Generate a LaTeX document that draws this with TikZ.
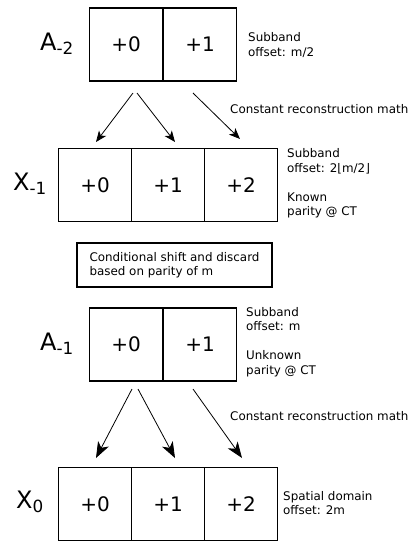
\documentclass[tikz,border=0pt]{standalone}
\usepackage{fontspec}
\setmainfont{DejaVu Sans}
\usetikzlibrary{arrows.meta}
\begin{document}
\begin{tikzpicture}[x=1pt,y=-1pt,
  cell/.style={draw,line width=1.3pt,minimum width=73pt,minimum height=73pt,inner sep=0pt,font=\fontsize{20}{24}\selectfont},
  lbl/.style={inner sep=0pt,font=\fontsize{24}{28}\selectfont},
  note/.style={inner sep=0pt,align=left,anchor=north west,font=\fontsize{11.9}{14.5}\selectfont},
  smallarrow/.style={line width=0.8pt,-{Stealth[length=11pt,width=9pt,inset=3pt]}},
  bigarrow/.style={line width=0.8pt,-{Stealth[length=16pt,width=12pt,inset=4.5pt]}},
  condbox/.style={draw,line width=1.3pt,minimum width=195pt,minimum height=44pt,inner xsep=11pt,align=left,font=\fontsize{11.9}{14.5}\selectfont}
]
\useasboundingbox (0,0) rectangle (410,541);
% A_-2
\node[cell] (a20) at (126,44.5) {+0};
\node[cell] (a21) at (200,44.5) {+1};
\node[lbl,anchor=west] (la2) at (40,44) {A\textsubscript{-2}};
\node[note] (na2) at (248,32.5) {Subband\\offset: m/2};
% arrows top
\coordinate (s1) at (133,93); \coordinate (e1) at (96,142);
\coordinate (s2) at (137,93); \coordinate (e2) at (175,142);
\coordinate (s3) at (193,93); \coordinate (e3) at (240,139);
\draw[smallarrow] (s1) -- (e1);
\draw[smallarrow] (s2) -- (e2);
\draw[smallarrow] (s3) -- (e3);
\node[note] (c1) at (230,104) {Constant reconstruction math};
% X_-1
\node[cell] (x10) at (95,185) {+0};
\node[cell] (x11) at (168,185) {+1};
\node[cell] (x12) at (241,185) {+2};
\node[lbl,anchor=west] (lx1) at (13,184) {X\textsubscript{-1}};
\node[note] (nx1) at (287,148.5) {Subband\\offset: 2⌊m/2⌋\\ \\Known\\parity @ CT};
% conditional box
\node[condbox] (cond) at (174.5,265) {Conditional shift and discard\\based on parity of m};
% A_-1
\node[cell] (a10) at (126,344.5) {+0};
\node[cell] (a11) at (200,344.5) {+1};
\node[lbl,anchor=west] (la1) at (40,344) {A\textsubscript{-1}};
\node[note] (na1) at (246,307) {Subband\\offset: m\\ \\Unknown\\parity @ CT};
% arrows bottom
\coordinate (t1) at (132,389); \coordinate (f1) at (96,458);
\coordinate (t2) at (138,389); \coordinate (f2) at (175,458);
\coordinate (t3) at (193,389); \coordinate (f3) at (242,458);
\draw[bigarrow] (t1) -- (f1);
\draw[bigarrow] (t2) -- (f2);
\draw[bigarrow] (t3) -- (f3);
\node[note] (c2) at (230,411) {Constant reconstruction math};
% X_0
\node[cell] (x00) at (95,504) {+0};
\node[cell] (x01) at (168,504) {+1};
\node[cell] (x02) at (241,504) {+2};
\node[lbl,anchor=west] (lx0) at (16,502) {X\textsubscript{0}};
\node[note] (nx0) at (283,491) {Spatial domain\\offset: 2m};
\end{tikzpicture}
\end{document}
